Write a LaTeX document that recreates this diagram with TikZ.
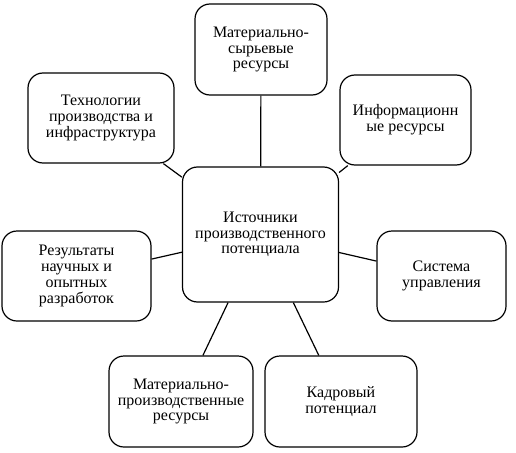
\documentclass[tikz,border=0pt]{standalone}
\usepackage{fontspec}
\setmainfont{Liberation Serif}
\usepackage{tikz}

\begin{document}
\begin{tikzpicture}[x=1pt,y=-1pt,thick,
  srcbox/.style={draw,line width=1.2pt,rounded corners=15pt,align=center,
    font=\rmfamily\fontsize{16}{15.8}\selectfont,inner sep=2pt}]

\useasboundingbox (0,0) rectangle (516,452);

%Central node
\node[srcbox,minimum width=156pt,minimum height=135pt] (src) at (260.5,234.5) {Источники\\производственного\\потенциала};

%Outer nodes
\node[srcbox,minimum width=132pt,minimum height=91pt] (raw) at (261,49.5) {Материально-\\сырьевые\\ресурсы};
\node[srcbox,minimum width=146pt,minimum height=90pt] (tech) at (101,118) {Технологии\\производства и\\инфраструктура};
\node[srcbox,minimum width=131pt,minimum height=90pt] (info) at (405.5,120) {Информационн\\ые ресурсы};
\node[srcbox,minimum width=149pt,minimum height=90pt] (res) at (76.5,276) {Результаты\\научных и\\опытных\\разработок};
\node[srcbox,minimum width=129pt,minimum height=90pt] (mgmt) at (441.5,276) {Система\\управления};
\node[srcbox,minimum width=144pt,minimum height=91pt] (prod) at (181,401.5) {Материально-\\производственные\\ресурсы};
\node[srcbox,minimum width=152pt,minimum height=91pt] (staff) at (341,401.5) {Кадровый\\потенциал};

% Connectors
\draw[line width=1.2pt] (src) -- (raw);
\draw[line width=1.2pt] (src) -- (tech);
\draw[line width=1.2pt] (src) -- (info);
\draw[line width=1.2pt] (src) -- (res);
\draw[line width=1.2pt] (src) -- (mgmt);
\draw[line width=1.2pt] (src) -- (prod);
\draw[line width=1.2pt] (src) -- (staff);

\end{tikzpicture}
\end{document}
